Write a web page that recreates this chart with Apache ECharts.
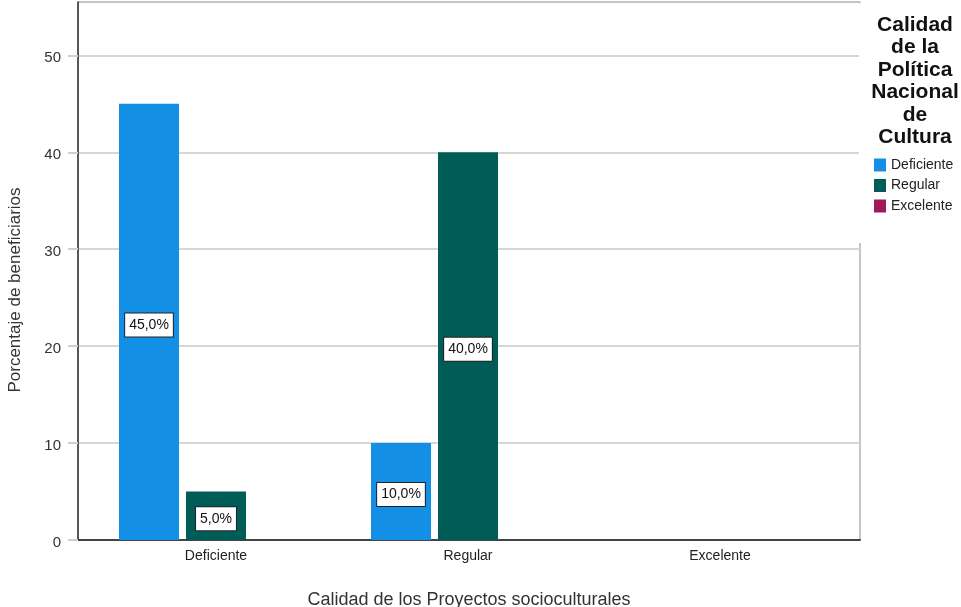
<!DOCTYPE html>
<html>
<head>
<meta charset="utf-8">
<script src="https://cdn.jsdelivr.net/npm/echarts@6/dist/echarts.min.js"></script>
<style>
html,body{margin:0;padding:0;background:#fff;}
#c{width:961px;height:607px;}
</style>
</head>
<body>
<div id="c"></div>
<script>
const categories = ['Deficiente', 'Regular', 'Excelente'];
const seriesNames = ['Deficiente', 'Regular', 'Excelente'];
const deficienteValues = [45, 10, 0];
const regularValues = [5, 40, 0];
const excelenteValues = [0, 0, 0];
const yTicks = [0, 10, 20, 30, 40, 50];
const yMax = 55.5;
const colors = ['#138fe6', '#005c56', '#a0195a'];
const legendTitle = 'Calidad\nde la\nPolítica\nNacional\nde\nCultura';
const xTitle = 'Calidad de los Proyectos socioculturales';
const yTitle = 'Porcentaje de beneficiarios';

const FONT = 'Liberation Sans, Arial, sans-serif';
const fmt = v => v.toFixed(1).replace('.', ',') + '%';

function buildData(arr) {
  return arr.map(v => ({ value: v, label: { show: v > 0 } }));
}

const valuesList = [deficienteValues, regularValues, excelenteValues];

const chart = echarts.init(document.getElementById('c'), null, { renderer: 'canvas' });

const option = {
  animation: false,
  backgroundColor: '#ffffff',
  color: colors,
  textStyle: { fontFamily: FONT },
  grid: [
    { left: 78, right: 101, top: 2, bottom: 67, show: true, borderColor: '#8a8a8a', borderWidth: 1, backgroundColor: 'transparent', containLabel: false, outerBoundsMode: 'none' },
    { left: 90, right: 115, top: 2, bottom: 67, containLabel: false, outerBoundsMode: 'none' }
  ],
  legend: {
    data: seriesNames,
    orient: 'vertical',
    left: 874,
    top: 158,
    padding: 0,
    itemWidth: 12,
    itemHeight: 13,
    itemGap: 6.5,
    icon: 'rect',
    z: 4,
    textStyle: { fontFamily: FONT, fontSize: 14, color: '#222' }
  },
  xAxis: [
    {
      gridIndex: 0, type: 'category', data: categories,
      axisLine: { show: true, lineStyle: { color: '#444', width: 2 } },
      axisTick: { show: false }, axisLabel: { show: false }, splitLine: { show: false },
      name: xTitle, nameLocation: 'middle', nameGap: 51,
      nameTextStyle: { fontFamily: FONT, fontSize: 18, color: '#333' }
    },
    {
      gridIndex: 1, type: 'category', data: categories,
      axisLine: { show: false }, axisTick: { show: false },
      axisLabel: { show: true, margin: 9, fontFamily: FONT, fontSize: 14, color: '#222' },
      splitLine: { show: false }
    }
  ],
  yAxis: [
    {
      gridIndex: 0, type: 'value', min: 0, max: yMax, interval: 10,
      axisLine: { show: true, lineStyle: { color: '#333', width: 1.5 } },
      axisTick: { show: true, length: 10, customValues: yTicks, lineStyle: { color: '#cfcfcf', width: 2 } },
      axisLabel: {
        show: true, customValues: yTicks, margin: 17,
        formatter: '{a|{value}}',
        rich: { a: { fontFamily: FONT, fontSize: 15, color: '#333', padding: [6, 0, 0, 0] } }
      },
      splitLine: { show: true, lineStyle: { color: '#d6d6d6', width: 2 } }
    },
    {
      gridIndex: 1, type: 'value', min: 0, max: yMax, interval: 10,
      axisLine: { show: false }, axisTick: { show: false }, axisLabel: { show: false }, splitLine: { show: false }
    }
  ],
  graphic: [
    {
      type: 'text', x: 15, y: 290, rotation: Math.PI / 2,
      style: { text: yTitle, font: '17px ' + FONT, fill: '#333', align: 'center', verticalAlign: 'middle' }
    },
    {
      type: 'rect', z: 2,
      shape: { x: 859, y: 3, width: 102, height: 240 },
      style: { fill: '#ffffff' }
    },
    {
      type: 'text', z: 3, x: 915, y: 13.5,
      style: { text: legendTitle, font: 'bold 21px ' + FONT, fill: '#111', align: 'center', verticalAlign: 'top', lineHeight: 22.5 }
    }
  ],
  series: seriesNames.map((name, i) => ({
    name: name,
    type: 'bar',
    xAxisIndex: 1,
    yAxisIndex: 1,
    barWidth: 60,
    barGap: (7 / 60 * 100) + '%',
    data: buildData(valuesList[i]),
    itemStyle: { color: colors[i] },
    label: {
      position: 'inside',
      offset: [0, 3],
      formatter: p => fmt(p.value),
      fontFamily: FONT, fontSize: 14, color: '#111',
      backgroundColor: '#ffffff', borderColor: '#222', borderWidth: 1,
      padding: [5, 4, 4, 4]
    }
  }))
};

chart.setOption(option);
</script>
</body>
</html>
